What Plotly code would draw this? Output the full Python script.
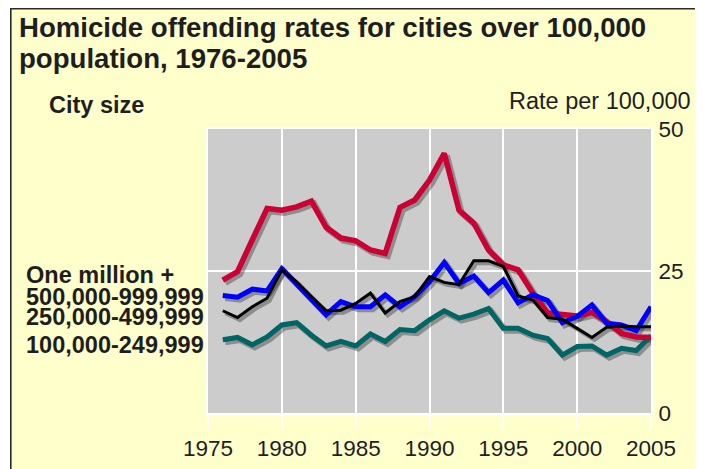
import plotly.graph_objects as go

# ---------------- data ----------------
years = list(range(1976, 2006))
one_million = [23.4, 24.9, 30.5, 36.0, 35.7, 36.3, 37.3, 32.7, 30.8, 30.3,
               28.7, 28.1, 36.2, 37.5, 41.0, 45.7, 35.7, 33.4, 28.7, 26.1,
               25.2, 21.1, 17.6, 17.4, 17.1, 17.7, 16.1, 14.0, 13.4, 13.3]
size_500k = [20.7, 20.4, 21.8, 21.5, 25.4, 22.8, 19.9, 17.3, 19.6, 18.7,
             18.7, 20.8, 18.7, 20.5, 23.1, 26.5, 22.8, 24.1, 21.2, 23.4,
             19.4, 20.8, 19.8, 15.9, 17.0, 19.0, 15.8, 15.5, 14.5, 18.7]
size_250k = [18.0, 16.8, 18.7, 20.2, 25.2, 23.1, 20.5, 18.0, 18.1, 19.3,
             21.1, 17.6, 19.6, 20.5, 24.0, 23.0, 22.6, 26.8, 26.8, 25.8,
             20.6, 19.9, 16.8, 16.5, 14.9, 13.3, 15.1, 15.3, 15.2, 15.2]
size_100k = [12.9, 13.3, 12.0, 13.4, 15.5, 15.9, 13.7, 11.8, 12.6, 11.8,
             13.9, 12.6, 14.7, 14.5, 16.4, 18.0, 16.7, 17.4, 18.4, 14.9,
             14.9, 13.7, 13.1, 10.2, 11.7, 11.8, 10.2, 11.4, 11.0, 13.6]
series_names = ["One million +", "500,000-999,999", "250,000-499,999", "100,000-249,999"]
x_ticks = [1975, 1980, 1985, 1990, 1995, 2000, 2005]
y_ticks = [0, 25, 50]

# ---------------- styling / layout helpers ----------------
W, H = 703, 469
OFF = 8                      # page body margin
L, R, T, B = 200, 643, 121, 405   # plot area in figure pixels
X0, X1 = 1975, 2005
Y0, Y1 = 0, 50


def px(x):  # page pixel -> paper fraction
    return (x - OFF - L) / (R - L)


def py(y):
    return (B - (y - OFF)) / (B - T)


FONT = "Liberation Sans, Arial, sans-serif"
TXT = "#1e1e1e"

styles = [  # drawing order bottom->top
    (size_100k, "#006565", 5, series_names[3]),
    (one_million, "#cc0033", 5.5, series_names[0]),
    (size_500k, "#0000ff", 5, series_names[1]),
    (size_250k, "#000000", 3, series_names[2]),
]

fig = go.Figure()

# invisible anchor trace so the base axes (grid, ticks) are drawn
fig.add_trace(go.Scatter(x=years, y=one_million, mode="lines", opacity=0,
                         line=dict(width=0), hoverinfo="skip", showlegend=False))

# shadow offset (pixels -> data units)
sdx = 2.5 * (X1 - X0) / (R - L)
sdy = 2.5 * (Y1 - Y0) / (B - T)

for data, color, width, name in styles:
    fig.add_trace(go.Scatter(x=years, y=data, mode="lines", xaxis="x2", yaxis="y2",
                             line=dict(color="rgba(40,40,40,0.38)", width=width + 1),
                             hoverinfo="skip", showlegend=False))
for data, color, width, name in styles:
    fig.add_trace(go.Scatter(x=years, y=data, mode="lines", name=name, xaxis="x3", yaxis="y3",
                             line=dict(color=color, width=width), showlegend=False))

annotations = [
    dict(text="<b>Homicide offending rates for cities over 100,000</b>", x=px(17), y=py(27),
         font=dict(size=27.6)),
    dict(text="<b>population, 1976-2005</b>", x=px(17), y=py(58), font=dict(size=27.6)),
    dict(text="<b>City size</b>", x=px(47), y=py(105), font=dict(size=23.5)),
    dict(text="Rate per 100,000", x=px(693), y=py(101), font=dict(size=23.5), xanchor="right"),
]
label_y = [275, 297, 317, 345]
for name, yy in zip(series_names, label_y):
    annotations.append(dict(text="<b>" + name + "</b>", x=px(24), y=py(yy), font=dict(size=23.5)))
for a in annotations:
    a.setdefault("xanchor", "left")
    a.update(xref="paper", yref="paper", yanchor="middle", showarrow=False)
    a["font"].update(family=FONT, color=TXT)

shapes = [
    # white surround outside the framed box
    dict(type="rect", xref="paper", yref="paper", x0=px(0), x1=px(10), y0=py(500), y1=py(0),
         fillcolor="white", line=dict(width=0)),
    dict(type="rect", xref="paper", yref="paper", x0=px(701), x1=px(720), y0=py(500), y1=py(0),
         fillcolor="white", line=dict(width=0)),
    # frame
    dict(type="rect", xref="paper", yref="paper", x0=px(10.8), x1=px(700.2), y0=py(520), y1=py(8.8),
         fillcolor="rgba(0,0,0,0)", line=dict(color="#2a2a2a", width=1.6)),
]

fig.update_layout(
    width=W, height=H,
    margin=dict(l=L, r=W - R, t=T, b=H - B, pad=0),
    paper_bgcolor="#ffffcc",
    plot_bgcolor="#cccccc",
    showlegend=False,
    annotations=annotations,
    shapes=shapes,
    xaxis=dict(range=[X0, X1], tickvals=x_ticks, ticktext=[str(v) for v in x_ticks],
               showgrid=True, gridcolor="white", gridwidth=2, zeroline=False,
               showline=True, linecolor="white", linewidth=2, mirror=True,
               ticks="outside", ticklen=14, tickwidth=2, tickcolor="white",
               tickfont=dict(family=FONT, size=22.5, color=TXT)),
    yaxis=dict(range=[Y0, Y1], tickvals=y_ticks, side="right",
               showgrid=True, gridcolor="white", gridwidth=2, zeroline=False,
               showline=True, linecolor="white", linewidth=2, mirror=True,
               ticks="", ticklabelstandoff=1,
               tickfont=dict(family=FONT, size=22.5, color=TXT)),
    xaxis2=dict(range=[X0 - sdx, X1 - sdx], overlaying="x", visible=False),
    yaxis2=dict(range=[Y0 + sdy, Y1 + sdy], overlaying="y", visible=False),
    xaxis3=dict(range=[X0, X1], overlaying="x", visible=False),
    yaxis3=dict(range=[Y0, Y1], overlaying="y", visible=False),
)

fig.write_html("out.html")
